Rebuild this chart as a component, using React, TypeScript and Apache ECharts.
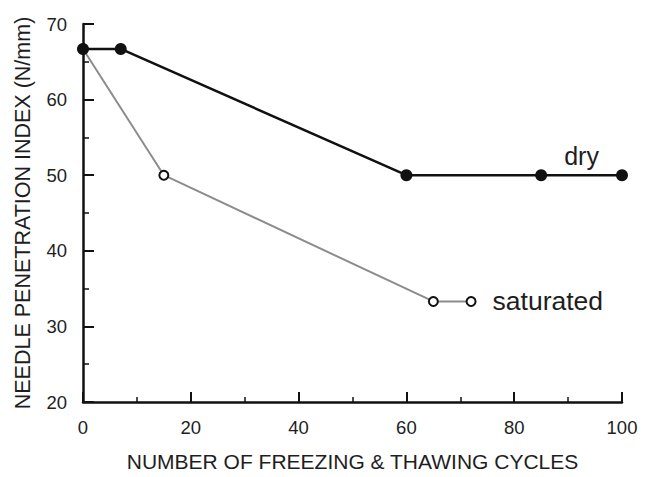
import React, { useEffect, useRef } from "react";
import * as echarts from "echarts";

const dryCycles = [0, 7, 60, 85, 100];
const dryIndex = [66.7, 66.7, 50, 50, 50];
const satCycles = [0, 15, 65, 72];
const satIndex = [66.7, 50, 33.3, 33.3];
const xTicks = [0, 20, 40, 60, 80, 100];
const yTicks = [20, 30, 40, 50, 60, 70];
const dryLabel = "dry";
const satLabel = "saturated";
const dryLabelAt = [92.5, 50];

const FONT = "'Liberation Sans', Arial, sans-serif";
const TEXT = "#1e1e1e";

export default function App() {
  const ref = useRef<HTMLDivElement>(null);
  useEffect(() => {
    if (!ref.current) return;
    const chart = echarts.init(ref.current, null, { renderer: "svg" });
    const dryData = dryCycles.map((c, i) => [c, dryIndex[i]]);
    const satData = satCycles.map((c, i) => {
      const p: any = { value: [c, satIndex[i]] };
      if (i === satCycles.length - 1) {
        p.label = {
          show: true,
          formatter: satLabel,
          position: "right",
          distance: 16,
          fontSize: 26.5,
          fontFamily: FONT,
          color: TEXT,
        };
      }
      return p;
    });
    chart.setOption({
      animation: false,
      backgroundColor: "#ffffff",
      grid: { left: 83, right: 29, top: 24, bottom: 69 },
      xAxis: {
        type: "value",
        min: xTicks[0],
        max: xTicks[xTicks.length - 1],
        interval: 20,
        name: "NUMBER OF FREEZING & THAWING CYCLES",
        nameLocation: "middle",
        nameGap: 49,
        nameTextStyle: { fontSize: 21, fontFamily: FONT, color: TEXT },
        axisLine: { show: true, lineStyle: { color: "#111", width: 2.5 } },
        axisTick: { show: true, inside: true, length: 10, lineStyle: { color: "#111", width: 2 } },
        minorTick: { show: true, splitNumber: 2, length: 5, lineStyle: { color: "#111", width: 1.5 } },
        axisLabel: { fontSize: 18.5, fontFamily: FONT, color: TEXT, margin: 16 },
        splitLine: { show: false },
      },
      yAxis: {
        type: "value",
        min: yTicks[0],
        max: yTicks[yTicks.length - 1],
        interval: 10,
        name: "NEEDLE PENETRATION INDEX (N/mm)",
        nameLocation: "middle",
        nameGap: 49,
        nameTextStyle: { fontSize: 21.5, fontFamily: FONT, color: TEXT },
        axisLine: { show: true, lineStyle: { color: "#111", width: 2.5 } },
        axisTick: { show: true, inside: true, length: 11, lineStyle: { color: "#111", width: 2 } },
        minorTick: { show: true, splitNumber: 2, length: 6, lineStyle: { color: "#111", width: 1.5 } },
        axisLabel: { fontSize: 18.5, fontFamily: FONT, color: TEXT, margin: 16 },
        splitLine: { show: false },
      },
      series: [
        {
          name: "saturated",
          type: "line",
          data: satData,
          symbol: "circle",
          symbolSize: 9,
          lineStyle: { color: "#8c8c8c", width: 2 },
          itemStyle: { color: "#ffffff", borderColor: "#111", borderWidth: 2 },
          z: 2,
        },
        {
          name: "dry",
          type: "line",
          data: dryData,
          symbol: "circle",
          symbolSize: 12,
          lineStyle: { color: "#111", width: 2.5 },
          itemStyle: { color: "#111" },
          z: 3,
          markPoint: {
            symbol: "circle",
            symbolSize: 0,
            data: [{ coord: dryLabelAt }],
            label: {
              show: true,
              formatter: dryLabel,
              position: "top",
              distance: 7,
              fontSize: 25,
              fontFamily: FONT,
              color: TEXT,
            },
          },
        },
      ],
    });
    return () => chart.dispose();
  }, []);
  return (
    <div
      ref={ref}
      style={{ position: "fixed", left: 0, top: 0, width: 651, height: 477, background: "#fff" }}
    />
  );
}
